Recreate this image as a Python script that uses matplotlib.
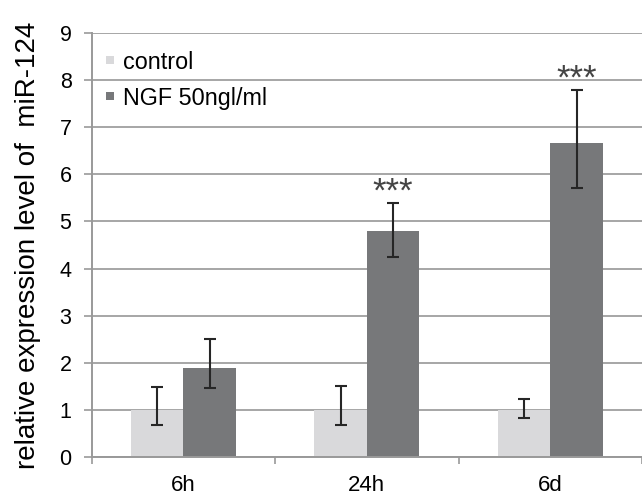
import matplotlib
matplotlib.use("Agg")
import matplotlib.pyplot as plt
import numpy as np

plt.rcParams['font.family'] = ['Liberation Sans', 'DejaVu Sans']

categories = ["6h", "24h", "6d"]
series_names = ["control", "NGF 50ngl/ml"]
control_vals = [1.0, 1.0, 1.0]
control_err_low = [0.32, 0.33, 0.18]
control_err_high = [0.48, 0.50, 0.23]
ngf_vals = [1.89, 4.80, 6.66]
ngf_err_low = [0.44, 0.55, 0.94]
ngf_err_high = [0.61, 0.60, 1.14]
stars = ["", "***", "***"]
yticks = [0, 1, 2, 3, 4, 5, 6, 7, 8, 9]
ylabel = "relative expression level of  miR-124"

fig = plt.figure(figsize=(6.42, 4.95), dpi=100)
ax = fig.add_axes([0.1428, 0.0774, 0.8572, 0.8553])

x = np.arange(len(categories))
w = 0.286
c_ctrl = "#d9d9db"
c_ngf = "#77787a"
ax.bar(x - w/2, control_vals, w, color=c_ctrl, label=series_names[0], zorder=2)
ax.bar(x + w/2, ngf_vals, w, color=c_ngf, label=series_names[1], zorder=2)
ax.errorbar(x - w/2, control_vals, yerr=[control_err_low, control_err_high],
            fmt='none', ecolor="#262626", elinewidth=1.5, capsize=4.5, capthick=1.5, zorder=3)
ax.errorbar(x + w/2, ngf_vals, yerr=[ngf_err_low, ngf_err_high],
            fmt='none', ecolor="#262626", elinewidth=1.5, capsize=4.5, capthick=1.5, zorder=3)
for xi, v, e, s in zip(x, ngf_vals, ngf_err_high, stars):
    if s:
        ax.text(xi + w/2, v + e + 0.02, s, ha='center', va='baseline',
                fontsize=25, color="#444444")

ax.set_xlim(-0.5, 2.5)
ax.set_ylim(0, 9)
ax.set_yticks(yticks)
ax.set_xticks(x)
ax.set_xticklabels(categories, fontsize=16)
ax.set_yticklabels([str(t) for t in yticks], fontsize=15.5)
ax.set_xticks([-0.5, 0.5, 1.5, 2.5], minor=True)
ax.tick_params(axis='x', which='major', length=0, pad=13)
ax.tick_params(axis='x', which='minor', length=5, width=1.2, color="#999999", direction='out')
ax.tick_params(axis='y', length=6, width=1.2, color="#999999", pad=8.5)
ax.grid(axis='y', color="#a6a6a6", linewidth=1.4, zorder=0)
ax.set_axisbelow(True)
for s in ['top', 'right']:
    ax.spines[s].set_visible(False)
for s in ['left', 'bottom']:
    ax.spines[s].set_color("#999999")
    ax.spines[s].set_linewidth(1.4)
ax.set_ylabel(ylabel, fontsize=20, labelpad=13)

leg = ax.legend(loc='upper left', bbox_to_anchor=(0.0255, 0.959), frameon=False,
                fontsize=16.8, handlelength=0.35, handleheight=0.15, handletextpad=0.4,
                labelspacing=0.55, borderaxespad=0.0, borderpad=0.0)

fig.savefig("out.png", dpi=100)
